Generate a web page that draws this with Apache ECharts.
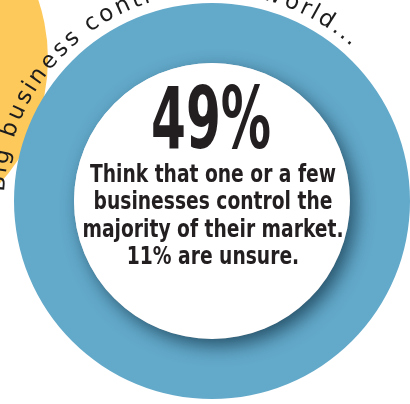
<!DOCTYPE html>
<html><head><meta charset="utf-8">
<script src="https://cdn.jsdelivr.net/npm/echarts@6/dist/echarts.min.js"></script>
<style>html,body{margin:0;padding:0;background:#fff}#c{width:410px;height:404px}</style>
</head><body><div id="c"></div>
<script>
// ---- data ----
const headlinePct = [49];
const unsurePct = [11];
const ringValues = [100];
const bodyLines = ['Think that one or a few', 'businesses control the', 'majority of their market.', unsurePct[0] + '% are unsure.'];
const arcTitle = 'Big business controls the world...';

// ---- layout ----
const chart = echarts.init(document.getElementById('c'), null, {renderer: 'canvas'});
const CX = 212, CY = 201, R_IN = 138, R_OUT = 198, R_TXT = 214;
const BLUE = '#63a9ca', YELLOW = '#fec95b', INK = '#231f20';
const mctx = document.createElement('canvas').getContext('2d');
function measure(font, text) { mctx.font = font; return mctx.measureText(text).width; }
const condFam = '"Liberation Sans Narrow","DejaVu Sans Condensed","Roboto","Liberation Sans",sans-serif';

const graphics = [];
graphics.push({type: 'circle', z: 0, silent: true, shape: {cx: -137, cy: 59, r: 185}, style: {fill: YELLOW}});

// curved handwritten-like title
const arcFont = '23px "DejaVu Sans", sans-serif';
const chars = [...arcTitle];
const widths = chars.map(ch => measure(arcFont, ch));
let cum = 0;
const centers = widths.map(w => { const c = cum + w / 2; cum += w; return c; });
const gIdx = 2, lastIdx = chars.length - 1;
const aStart = -78 * Math.PI / 180, aEnd = 41 * Math.PI / 180;
const k = (aEnd - aStart) / (centers[lastIdx] - centers[gIdx]);
chars.forEach((ch, i) => {
  const a = aStart + (centers[i] - centers[gIdx]) * k;
  graphics.push({
    type: 'text', z: 10, silent: true,
    x: CX + R_TXT * Math.sin(a), y: CY - R_TXT * Math.cos(a), rotation: -a,
    style: {text: ch, font: arcFont, fill: '#1d1d1d', align: 'center', verticalAlign: 'middle', textAlign: 'center', textVerticalAlign: 'middle'}
  });
});

function condText(text, fs, cx, baseline, scaleX, weight) {
  const font = weight + ' ' + fs + 'px ' + condFam;
  return {
    type: 'text', z: 20, silent: true, x: cx, y: baseline - fs * 0.34, scaleX: scaleX,
    style: {text: text, font: font, fill: INK, align: 'center', verticalAlign: 'middle', textAlign: 'center', textVerticalAlign: 'middle'}
  };
}
const headText = headlinePct[0] + '%';
const headFs = 86;
const headScale = 120 / measure('bold ' + headFs + 'px ' + condFam, headText);
graphics.push(condText(headText, headFs, 211, 155, headScale, 'bold'));

const bodyFs = 25;
const bodyScale = 261 / measure('bold ' + bodyFs + 'px ' + condFam, bodyLines[2]);
bodyLines.forEach((t, i) => {
  graphics.push(condText(t, bodyFs, 213, 184 + i * 27.3, bodyScale, 'bold'));
});

chart.setOption({
  animation: false,
  backgroundColor: '#ffffff',
  graphic: {elements: graphics},
  series: [
    {
      type: 'pie', z: 2, silent: true, center: [CX, CY], radius: [R_IN, R_OUT],
      data: ringValues.map(v => ({value: v, name: 'ring'})),
      itemStyle: {color: BLUE, borderWidth: 0},
      label: {show: false}, labelLine: {show: false}, emphasis: {disabled: true}
    },
    {
      type: 'pie', z: 3, silent: true, center: [CX, CY], radius: [0, R_IN],
      data: ringValues.map(v => ({value: v, name: 'disc'})),
      itemStyle: {color: '#ffffff', borderWidth: 0, shadowBlur: 18, shadowColor: 'rgba(20,55,75,0.75)', shadowOffsetX: 6, shadowOffsetY: 7},
      label: {show: false}, labelLine: {show: false}, emphasis: {disabled: true}
    }
  ]
});
</script>
</body></html>
